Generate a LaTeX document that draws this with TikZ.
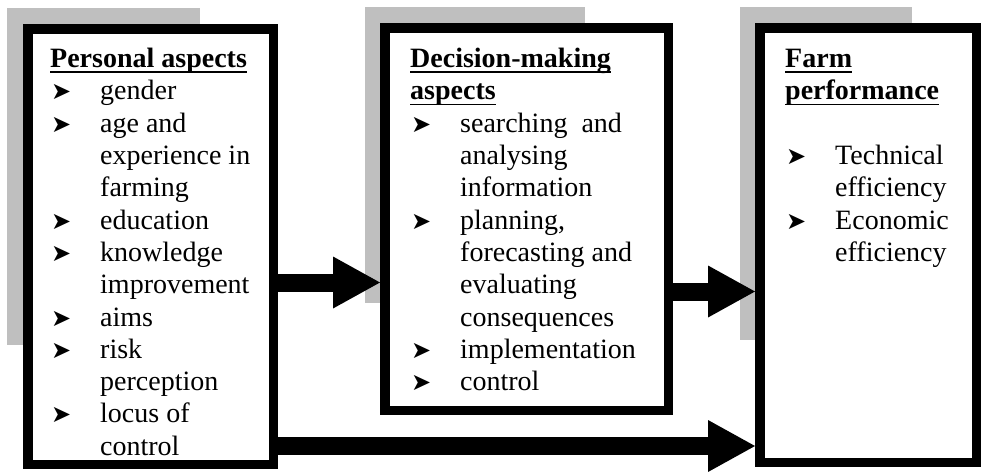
\documentclass[tikz,border=0pt]{standalone}
\usepackage{fontspec}
\setmainfont{Liberation Serif}
\newfontfamily\dingfont{DejaVu Sans}
\usetikzlibrary{arrows.meta}
\tikzstyle{shadow} = [fill=black!25, draw=none]
\tikzstyle{block} = [rectangle, draw, line width=9.5pt, fill=white, inner sep=0pt]
\tikzstyle{txt} = [align=left, inner sep=0pt, anchor=north west,
    font=\fontsize{28}{32.3}\selectfont]
\tikzstyle{line} = [draw, line width=18pt,
    -{Triangle[length=47pt,width=52pt,line width=0pt]}]
\newcommand\bul{{\dingfont\fontsize{24}{24}\selectfont ➤}}
\newcommand\itm[1]{\makebox[50pt][l]{\hspace{1pt}\bul}#1}
\newcommand\cnt[1]{\hspace*{50pt}#1}
\newcommand\hd[1]{\setbox0=\hbox{\bfseries #1}\rlap{\rule[-5.5pt]{\wd0}{1.8pt}}\box0}

\begin{document}
\begin{tikzpicture}[x=1pt,y=-1pt]
    \useasboundingbox (0,0) rectangle (981,471);
    % Shadows
    \fill[shadow] (7,8) rectangle (200,345);
    \fill[shadow] (365,7) rectangle (585,303);
    \fill[shadow] (740,7) rectangle (912,340);
    % Place nodes
    \node[block, minimum width=245.5pt, minimum height=435.5pt] (personal) at (150.5,246.5) {};
    \node[block, minimum width=283.5pt, minimum height=382.5pt] (decision) at (526.5,219) {};
    \node[block, minimum width=216.5pt, minimum height=434.5pt] (farm) at (868,245) {};
    \node[txt] (personaltxt) at (50,48) {\hd{Personal aspects}\\
        \itm{gender}\\
        \itm{age and}\\
        \cnt{experience in}\\
        \cnt{farming}\\
        \itm{education}\\
        \itm{knowledge}\\
        \cnt{improvement}\\
        \itm{aims}\\
        \itm{risk}\\
        \cnt{perception}\\
        \itm{locus of}\\
        \cnt{control}};
    \node[txt] (decisiontxt) at (410,48) {\hd{Decision-making}\\
        \hd{aspects}\\
        \itm{searching\ \ and}\\
        \cnt{analysing}\\
        \cnt{information}\\
        \itm{planning,}\\
        \cnt{forecasting and}\\
        \cnt{evaluating}\\
        \cnt{consequences}\\
        \itm{implementation}\\
        \itm{control}};
    \node[txt] (farmtxt) at (785,49) {\hd{Farm}\\
        \hd{performance}\\
        \mbox{}\\
        \itm{Technical}\\
        \cnt{efficiency}\\
        \itm{Economic}\\
        \cnt{efficiency}};
    % Draw edges
    \path [line] (personal.east |- 0,282.5) -- (decision.west |- 0,282.5);
    \path [line] (decision.east |- 0,291.5) -- (farm.west |- 0,291.5);
    \path [line] (personal.east |- 0,446) -- (farm.west |- 0,446);
\end{tikzpicture}
\end{document}
